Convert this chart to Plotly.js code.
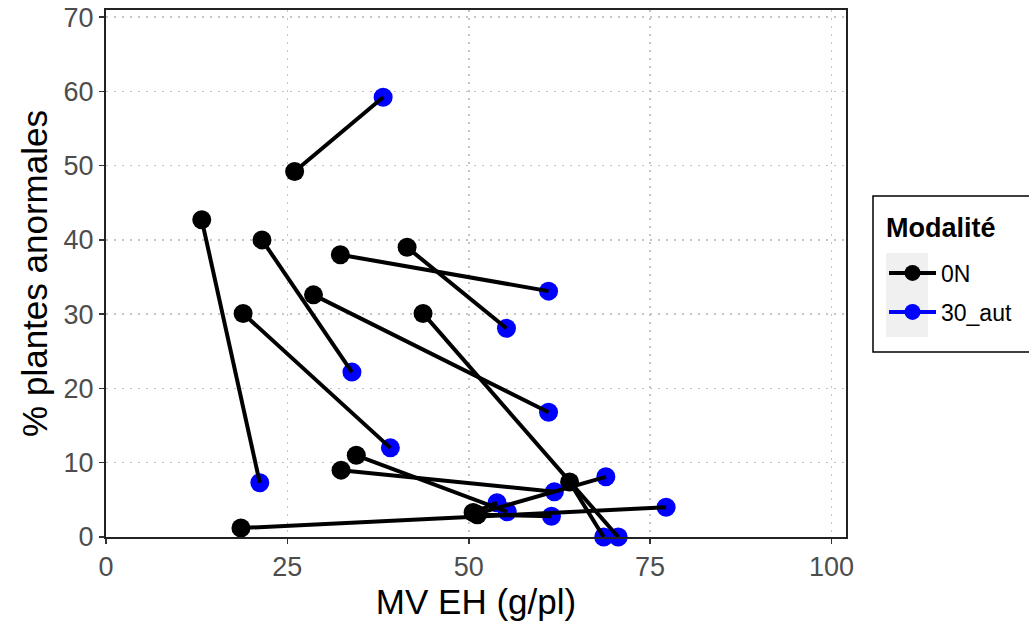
<!DOCTYPE html>
<html>
<head>
<meta charset="utf-8">
<script src="https://cdn.plot.ly/plotly-3.0.1.min.js"></script>
<style>html,body{margin:0;padding:0;background:#fff;}#chart{width:1029px;height:628px;}</style>
</head>
<body>
<div id="chart"></div>
<script>
// Paired observations: each index = one plot (0N value -> 30_aut value)
const mv0N   = [26.0, 13.2, 21.5, 32.3, 41.5, 28.6, 18.9, 43.7, 63.9, 18.6, 32.4, 34.5, 51.0, 51.2, 50.6];
const pct0N  = [49.2, 42.7, 40.0, 38.0, 39.0, 32.6, 30.1, 30.1,  7.4,  1.2,  9.0, 11.0,  3.1,  3.0,  3.3];
const mv30   = [38.2, 21.2, 33.9, 61.0, 55.2, 61.0, 39.2, 70.6, 68.6, 77.2, 61.8, 55.3, 68.9, 61.4, 53.9];
const pct30  = [59.2,  7.3, 22.2, 33.1, 28.1, 16.8, 12.0,  0.0,  0.0,  4.0,  6.1,  3.4,  8.1,  2.8,  4.6];
const groupNames = ['0N', '30_aut'];
const legendTitle = 'Modalité';
const xTicks = [0, 25, 50, 75, 100];
const yTicks = [0, 10, 20, 30, 40, 50, 60, 70];

function withGaps(arr){ const o=[]; arr.forEach(v=>{o.push(v); o.push(null);}); return o; }

const segX = [], segY = [];
for (let i = 0; i < mv0N.length; i++) {
  segX.push(mv0N[i], mv30[i], null);
  segY.push(pct0N[i], pct30[i], null);
}

const traces = [
  {x: withGaps(mv0N), y: withGaps(pct0N), name: groupNames[0], mode: 'lines+markers', type: 'scatter', legend: 'legend',
   connectgaps: false, marker: {color: '#000000', size: 19}, line: {color: '#000000', width: 4}, cliponaxis: false},
  {x: withGaps(mv30), y: withGaps(pct30), name: groupNames[1], mode: 'lines+markers', type: 'scatter', legend: 'legend2',
   connectgaps: false, marker: {color: '#0000FF', size: 19}, line: {color: '#0000FF', width: 4}, cliponaxis: false},
  {x: segX, y: segY, mode: 'lines', type: 'scatter', showlegend: false, line: {color: '#000000', width: 4}, hoverinfo: 'skip', cliponaxis: false}
];

const tickFont = {family: 'Liberation Sans, Arial, sans-serif', size: 27, color: '#4D4D4D'};
const px2x = p => (p - 106) / 740;
const px2y = p => (537 - p) / 527;
const legendCommon = {xanchor: 'left', yanchor: 'middle', borderwidth: 0, bgcolor: 'rgba(0,0,0,0)',
  font: {size: 23, color: '#000'}, itemwidth: 47};
const layout = {
  width: 1029, height: 628,
  margin: {l: 106, r: 183, t: 10, b: 91},
  paper_bgcolor: '#ffffff', plot_bgcolor: '#ffffff',
  font: {family: 'Liberation Sans, Arial, sans-serif', color: '#000'},
  xaxis: {
    range: [0, 102], tickvals: xTicks, ticktext: xTicks.map(String),
    showgrid: true, gridcolor: '#c4c4c4', griddash: '2px,6px', gridwidth: 1.5,
    zeroline: false, showline: true, linecolor: '#222', linewidth: 2, mirror: true,
    ticks: 'outside', ticklen: 5, tickwidth: 1.5, tickcolor: '#333', tickfont: tickFont,
    title: {text: 'MV EH (g/pl)', font: {size: 35, color: '#000'}, standoff: 6}
  },
  yaxis: {
    range: [0, 70.95], tickvals: yTicks, ticktext: yTicks.map(String),
    showgrid: true, gridcolor: '#c4c4c4', griddash: '2px,6px', gridwidth: 1.5,
    zeroline: false, showline: true, linecolor: '#222', linewidth: 2, mirror: true,
    ticks: 'outside', ticklen: 5, tickwidth: 1.5, tickcolor: '#333', tickfont: tickFont,
    title: {text: '% plantes anormales', font: {size: 35, color: '#000'}, standoff: 5}
  },
  shapes: [
    {type: 'rect', xref: 'paper', yref: 'paper', x0: px2x(873), x1: px2x(1040), y0: px2y(352), y1: px2y(196),
     line: {color: '#000', width: 1.5}, fillcolor: '#fff', layer: 'below'},
    {type: 'rect', xref: 'paper', yref: 'paper', x0: px2x(886), x1: px2x(928), y0: px2y(337), y1: px2y(253),
     line: {width: 0}, fillcolor: '#f0f0f0', layer: 'below'}
  ],
  annotations: [
    {text: '<b>' + legendTitle + '</b>', xref: 'paper', yref: 'paper', x: px2x(884), y: px2y(228),
     xanchor: 'left', yanchor: 'middle', showarrow: false, font: {size: 27, color: '#000'}}
  ],
  legend: Object.assign({x: px2x(884), y: px2y(273)}, legendCommon),
  legend2: Object.assign({x: px2x(884), y: px2y(312)}, legendCommon),
  showlegend: true
};

Plotly.newPlot('chart', traces, layout, {displayModeBar: false, staticPlot: true});
</script>
</body>
</html>
